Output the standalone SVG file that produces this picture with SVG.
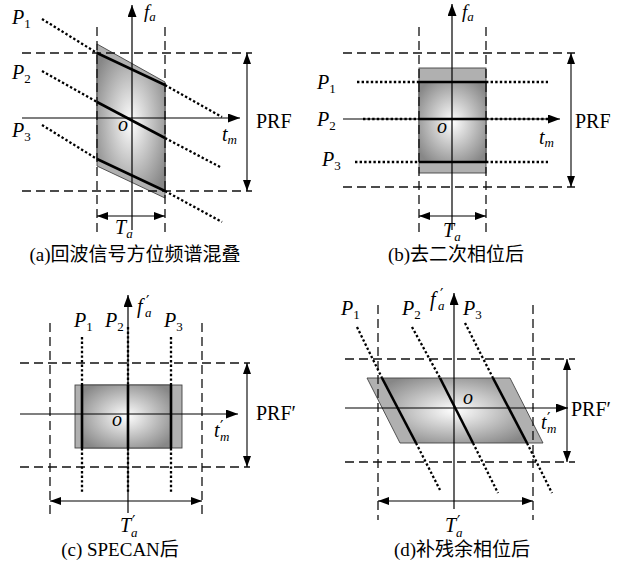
<svg xmlns="http://www.w3.org/2000/svg" width="623" height="572" viewBox="0 0 623 572">
<defs>
<radialGradient id="g" cx="50%" cy="50%" r="62%">
<stop offset="0" stop-color="#ffffff"/>
<stop offset="1" stop-color="#878787"/>
</radialGradient>
<marker id="ax" viewBox="0 0 12 9" refX="12" refY="4.5" markerWidth="12" markerHeight="9" markerUnits="userSpaceOnUse" orient="auto-start-reverse"><path d="M0,0 L12,4.5 L0,9 z" fill="#000"/></marker>
<marker id="dm" viewBox="0 0 11 8" refX="11" refY="4" markerWidth="11" markerHeight="8" markerUnits="userSpaceOnUse" orient="auto-start-reverse"><path d="M0,0 L11,4 L0,8 z" fill="#000"/></marker>
</defs>
<style>
.bg{fill:#fff}
.strip{fill:#b0b0b0;stroke:#444;stroke-width:0.9}
.grad{fill:url(#g);stroke:#444;stroke-width:0.9}
.dash{stroke:#111;stroke-width:1.3;stroke-dasharray:9 5;fill:none}
.thick{stroke:#000;stroke-width:2.6;fill:none}
.dot{stroke:#000;stroke-width:2.3;stroke-dasharray:2.4 2.2;fill:none}
.axis{stroke:#000;stroke-width:1.2;fill:none;marker-end:url(#ax)}
.dim{stroke:#000;stroke-width:1.1;fill:none;marker-start:url(#dm);marker-end:url(#dm)}
.m{font-family:"Liberation Serif","DejaVu Serif",serif;font-style:italic;font-size:20px;fill:#000}
.sub{font-size:13px;font-style:normal}
.ssub{font-size:13px}
.s{font-family:"Liberation Serif","DejaVu Serif",serif;font-style:italic;font-size:13px;fill:#000}
.pr{font-family:"DejaVu Sans",sans-serif;font-size:15px;fill:#000}
.rm{font-family:"Liberation Serif","DejaVu Serif",serif;font-size:20px;fill:#000}
.cap{font-family:"Liberation Serif","Noto Sans CJK SC",serif;font-size:19px;fill:#000;text-anchor:middle}
</style>
<rect class="bg" x="0" y="0" width="623" height="572"/>

<g id="panel-a">
<polygon class="strip" points="97,44 165,82 165,198 97,166"/>
<polygon class="grad" points="97,53 165,85 165,191 97,159"/>
<line class="dash" x1="22" y1="53" x2="252" y2="53"/>
<line class="dash" x1="22" y1="191" x2="252" y2="191"/>
<line class="dash" x1="97" y1="27" x2="97" y2="233"/>
<line class="dash" x1="165" y1="27" x2="165" y2="233"/>
<line class="thick" x1="97" y1="53" x2="165" y2="85"/>
<line class="thick" x1="97" y1="102" x2="165" y2="138"/>
<line class="thick" x1="97" y1="159" x2="165" y2="191"/>
<line class="dot" x1="42" y1="19" x2="97" y2="53"/>
<line class="dot" x1="165" y1="85" x2="222" y2="117"/>
<line class="dot" x1="42" y1="71" x2="97" y2="102"/>
<line class="dot" x1="165" y1="138" x2="222" y2="168"/>
<line class="dot" x1="42" y1="125" x2="97" y2="159"/>
<line class="dot" x1="165" y1="191" x2="222" y2="222"/>
<line class="axis" x1="22" y1="118" x2="240" y2="118"/>
<line class="axis" x1="132" y1="230" x2="132" y2="5"/>
<line class="dim" x1="247" y1="53" x2="247" y2="191"/>
<line class="dim" x1="97" y1="216" x2="165" y2="216"/>
<text class="m" x="12" y="24">P<tspan class="sub" dy="4">1</tspan></text>
<text class="m" x="12" y="79">P<tspan class="sub" dy="4">2</tspan></text>
<text class="m" x="12" y="137">P<tspan class="sub" dy="4">3</tspan></text>
<text class="m" x="144" y="18" style="font-size:19px">f<tspan class="ssub" dy="3">a</tspan></text>
<text class="m" x="222" y="141">t<tspan class="ssub" dy="3">m</tspan></text>
<text class="m" x="118" y="131">o</text>
<text class="rm" x="256" y="128">PRF</text>
<text class="m" x="115" y="234">T<tspan class="ssub" dy="4">a</tspan></text>
<text class="cap" x="135" y="261">(a)回波信号方位频谱混叠</text>
</g>

<g id="panel-b">
<rect class="strip" x="419" y="68" width="67" height="105"/>
<rect class="grad" x="419" y="82" width="67" height="80"/>
<line class="dash" x1="343" y1="53" x2="575" y2="53"/>
<line class="dash" x1="343" y1="187" x2="575" y2="187"/>
<line class="dash" x1="419" y1="27" x2="419" y2="233"/>
<line class="dash" x1="486" y1="27" x2="486" y2="233"/>
<line class="thick" x1="419" y1="82" x2="486" y2="82"/>
<line class="thick" x1="419" y1="119" x2="486" y2="119"/>
<line class="thick" x1="419" y1="162" x2="486" y2="162"/>
<line class="dot" x1="357" y1="82" x2="419" y2="82"/>
<line class="dot" x1="486" y1="82" x2="548" y2="82"/>
<line class="dot" x1="363" y1="119" x2="419" y2="119"/>
<line class="dot" x1="486" y1="119" x2="548" y2="119"/>
<line class="dot" x1="355" y1="162" x2="419" y2="162"/>
<line class="dot" x1="486" y1="162" x2="548" y2="162"/>
<line class="axis" x1="343" y1="119" x2="560" y2="119"/>
<line class="axis" x1="452" y1="230" x2="452" y2="4"/>
<line class="dim" x1="571" y1="53" x2="571" y2="187"/>
<line class="dim" x1="419" y1="216" x2="486" y2="216"/>
<text class="m" x="317" y="89">P<tspan class="sub" dy="4">1</tspan></text>
<text class="m" x="317" y="126">P<tspan class="sub" dy="4">2</tspan></text>
<text class="m" x="322" y="166">P<tspan class="sub" dy="4">3</tspan></text>
<text class="m" x="462" y="18" style="font-size:19px">f<tspan class="ssub" dy="3">a</tspan></text>
<text class="m" x="539" y="144">t<tspan class="ssub" dy="3">m</tspan></text>
<text class="m" x="437" y="133">o</text>
<text class="rm" x="575" y="128">PRF</text>
<text class="m" x="443" y="237">T<tspan class="ssub" dy="4">a</tspan></text>
<text class="cap" x="456" y="261">(b)去二次相位后</text>
</g>

<g id="panel-c">
<rect class="strip" x="75" y="385" width="107" height="63"/>
<rect class="grad" x="82" y="385" width="89" height="63"/>
<line class="dash" x1="20" y1="363" x2="250" y2="363"/>
<line class="dash" x1="20" y1="467" x2="250" y2="467"/>
<line class="dash" x1="50" y1="323" x2="50" y2="515"/>
<line class="dash" x1="202" y1="323" x2="202" y2="515"/>
<line class="thick" x1="82" y1="385" x2="82" y2="448"/>
<line class="thick" x1="128" y1="385" x2="128" y2="448"/>
<line class="thick" x1="171" y1="385" x2="171" y2="448"/>
<line class="dot" x1="82" y1="337" x2="82" y2="385"/>
<line class="dot" x1="82" y1="448" x2="82" y2="493"/>
<line class="dot" x1="128" y1="327" x2="128" y2="385"/>
<line class="dot" x1="128" y1="448" x2="128" y2="493"/>
<line class="dot" x1="171" y1="337" x2="171" y2="385"/>
<line class="dot" x1="171" y1="448" x2="171" y2="493"/>
<line class="axis" x1="20" y1="414" x2="238" y2="414"/>
<line class="axis" x1="128" y1="513" x2="128" y2="295"/>
<line class="dim" x1="247" y1="363" x2="247" y2="467"/>
<line class="dim" x1="50" y1="501" x2="202" y2="501"/>
<text class="m" x="74" y="327">P<tspan class="sub" dy="4">1</tspan></text>
<text class="m" x="105" y="327">P<tspan class="sub" dy="4">2</tspan></text>
<text class="m" x="164" y="327">P<tspan class="sub" dy="4">3</tspan></text>
<text class="m" x="137" y="313">f</text>
<text class="s" x="145" y="317">a</text>
<text class="pr" x="146" y="307">′</text>
<text class="m" x="214" y="437">t</text>
<text class="s" x="220" y="441">m</text>
<text class="pr" x="220" y="432">′</text>
<text class="m" x="120" y="532">T</text>
<text class="s" x="131" y="537">a</text>
<text class="pr" x="132" y="527">′</text>
<text class="m" x="112" y="426">o</text>
<text class="rm" x="256" y="420">PRF′</text>
<text class="cap" x="120" y="556">(c) SPECAN后</text>
</g>

<g id="panel-d">
<polygon class="strip" points="367,378 382,378 416,443 400,443"/>
<polygon class="strip" points="493,378 510,378 543,443 527,443"/>
<polygon class="grad" points="382,378 493,378 527,443 416,443"/>
<line class="dash" x1="345" y1="359" x2="575" y2="359"/>
<line class="dash" x1="345" y1="462" x2="575" y2="462"/>
<line class="dash" x1="378" y1="305" x2="378" y2="520"/>
<line class="dash" x1="533" y1="305" x2="533" y2="520"/>
<line class="thick" x1="382" y1="378" x2="416" y2="443"/>
<line class="thick" x1="440" y1="378" x2="473" y2="443"/>
<line class="thick" x1="493" y1="378" x2="527" y2="443"/>
<line class="dot" x1="357" y1="327" x2="382" y2="378"/>
<line class="dot" x1="416" y1="443" x2="440" y2="490"/>
<line class="dot" x1="412" y1="327" x2="440" y2="378"/>
<line class="dot" x1="473" y1="443" x2="498" y2="493"/>
<line class="dot" x1="465" y1="323" x2="493" y2="378"/>
<line class="dot" x1="527" y1="443" x2="552" y2="493"/>
<line class="axis" x1="345" y1="408" x2="568" y2="408"/>
<line class="axis" x1="454" y1="509" x2="454" y2="293"/>
<line class="dim" x1="567" y1="359" x2="567" y2="462"/>
<line class="dim" x1="378" y1="501" x2="533" y2="501"/>
<text class="m" x="341" y="315">P<tspan class="sub" dy="4">1</tspan></text>
<text class="m" x="402" y="315">P<tspan class="sub" dy="4">2</tspan></text>
<text class="m" x="463" y="315">P<tspan class="sub" dy="4">3</tspan></text>
<text class="m" x="430" y="306">f</text>
<text class="s" x="438" y="310">a</text>
<text class="pr" x="440" y="300">′</text>
<text class="m" x="541" y="429">t</text>
<text class="s" x="547" y="433">m</text>
<text class="pr" x="547" y="424">′</text>
<text class="m" x="445" y="532">T</text>
<text class="s" x="456" y="537">a</text>
<text class="pr" x="457" y="527">′</text>
<text class="m" x="463" y="404">o</text>
<text class="rm" x="571" y="416">PRF′</text>
<text class="cap" x="462" y="556">(d)补残余相位后</text>
</g>
</svg>
